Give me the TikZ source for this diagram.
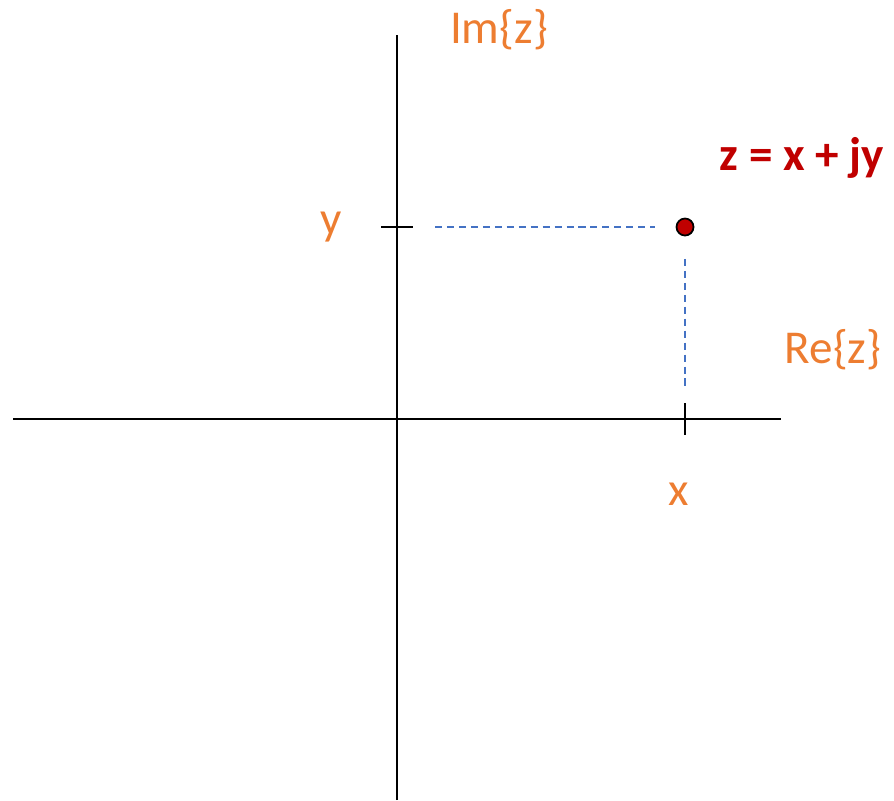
\documentclass[tikz,border=0pt]{standalone}
\usepackage{fontspec}
\setmainfont{Carlito}
\definecolor{labelorange}{HTML}{ED7D31}
\definecolor{pointred}{HTML}{C00000}
\definecolor{guideblue}{HTML}{4472C4}
\tikzset{
  axisline/.style={black, line width=0.6pt},
  guideline/.style={guideblue, line width=0.55pt, dash pattern=on 2pt off 1.4pt},
  axislabel/.style={text=labelorange, anchor=base, inner sep=0pt, font=\fontsize{13.4}{16}\selectfont},
}
\begin{document}
\begin{tikzpicture}[x=0.01cm, y=-0.01cm]
	\useasboundingbox (0,0) rectangle (894,800);

	% Axis end points
	\coordinate (imtop) at (397,35);
	\coordinate (imbottom) at (397,800);
	\coordinate (releft) at (13,419);
	\coordinate (reright) at (781,419);

	% Real and imaginary axes
	\draw[axisline] (releft) -- (reright);
	\draw[axisline] (imbottom) -- (imtop);

	% Ticks at x and y
	\coordinate (ytickl) at (381,227);
	\coordinate (ytickr) at (413,227);
	\coordinate (xtickt) at (685,403);
	\coordinate (xtickb) at (685,435);
	\draw[axisline] (ytickl) -- (ytickr);
	\draw[axisline] (xtickt) -- (xtickb);

	% The point z
	\node[circle, draw=black, fill=pointred, line width=0.5pt, inner sep=0pt, minimum size=0.17cm] (zpoint) at (685,227) {};

	% Dashed guides to the axes
	\coordinate (yguide) at (435,227);
	\coordinate (xguide) at (685,387);
	\draw[guideline] (yguide) -- ([xshift=-0.21cm]zpoint.west);
	\draw[guideline] ([yshift=-0.225cm]zpoint.south) -- (xguide);

	% Labels
	\node[axislabel] (imlabel) at (499,43) {Im\{z\}};
	\node[axislabel] (relabel) at (833,363) {Re\{z\}};
	\node[axislabel] (ylabel) at (331,234) {y};
	\node[axislabel] (xlabel) at (679,505) {x};
	\node[axislabel, text=pointred, font=\fontsize{13.4}{16}\selectfont\bfseries] (zlabel) at (802,170) {z = x + jy};
\end{tikzpicture}
\end{document}
